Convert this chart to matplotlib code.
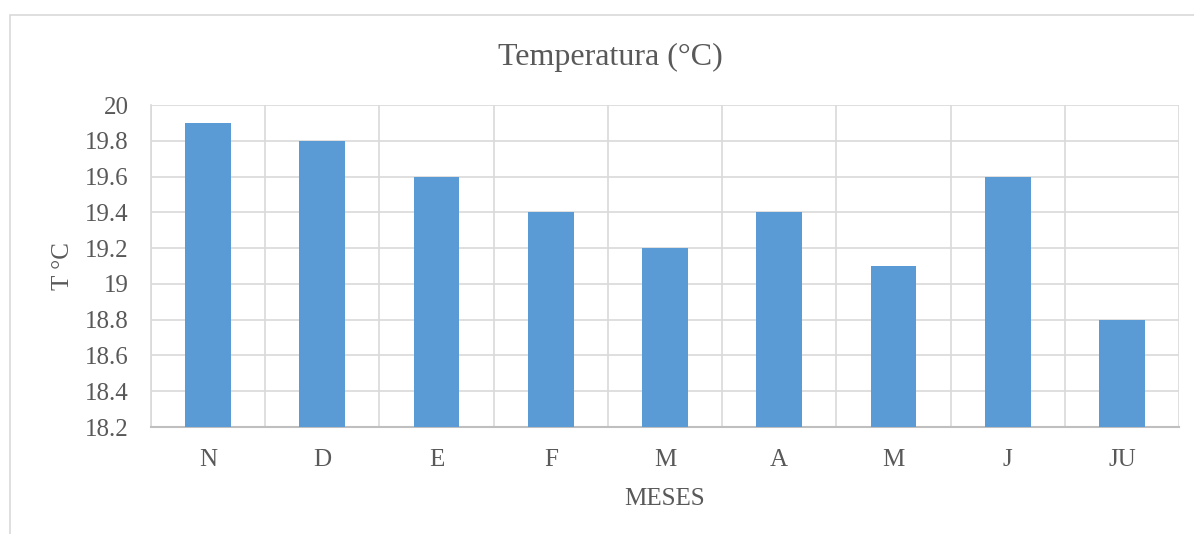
import matplotlib.pyplot as plt
from matplotlib.patches import Rectangle
import numpy as np

plt.rcParams['font.family'] = ['Liberation Serif', 'DejaVu Serif']

months = ['N', 'D', 'E', 'F', 'M', 'A', 'M', 'J', 'JU']
temps = [19.9, 19.8, 19.6, 19.4, 19.2, 19.4, 19.1, 19.6, 18.8]
yticks = [18.2, 18.4, 18.6, 18.8, 19, 19.2, 19.4, 19.6, 19.8, 20]
ytick_labels = ['18.2', '18.4', '18.6', '18.8', '19', '19.2', '19.4', '19.6', '19.8', '20']

text_color = '#595959'
grid_color = '#D9D9D9'

fig = plt.figure(figsize=(11.94, 5.34), dpi=100)
# chart area border
fig.patches.append(Rectangle((10 / 1194, -0.05), 1.2, 1 - 15 / 534 + 0.05,
                             transform=fig.transFigure, fill=False,
                             edgecolor=grid_color, linewidth=1.2))

ax = fig.add_axes([151 / 1194, 1 - 427 / 534, (1179 - 151) / 1194, (427 - 105) / 534])
x = np.arange(len(months))
ax.bar(x, temps, width=0.4, color='#5B9BD5', zorder=3)

ax.set_xlim(-0.5, len(months) - 0.5)
ax.set_ylim(18.2, 20)
ax.set_yticks(yticks)
ax.set_yticklabels(ytick_labels)
ax.set_xticks(x)
ax.set_xticklabels(months)
ax.set_xticks(np.arange(len(months) + 1) - 0.5, minor=True)

ax.grid(axis='y', which='major', color=grid_color, linewidth=1.2, zorder=0)
ax.grid(axis='x', which='minor', color=grid_color, linewidth=1.2, zorder=0)
ax.tick_params(which='both', length=0, colors=text_color, labelsize=18)
ax.tick_params(axis='x', pad=16)
ax.tick_params(axis='y', pad=16)

for side in ['top', 'right']:
    ax.spines[side].set_visible(False)
ax.spines['left'].set_color(grid_color)
ax.spines['left'].set_linewidth(1.2)
ax.spines['bottom'].set_color('#BFBFBF')
ax.spines['bottom'].set_linewidth(1.5)

fig.text(610 / 1194, 1 - 57 / 534, 'Temperatura (°C)', fontsize=23, color=text_color,
         ha='center', va='center')
ax.set_xlabel('MESES', fontsize=18, color=text_color, labelpad=12)
ax.set_ylabel('T °C', fontsize=18, color=text_color, labelpad=8)

fig.savefig('out.png', dpi=100)
